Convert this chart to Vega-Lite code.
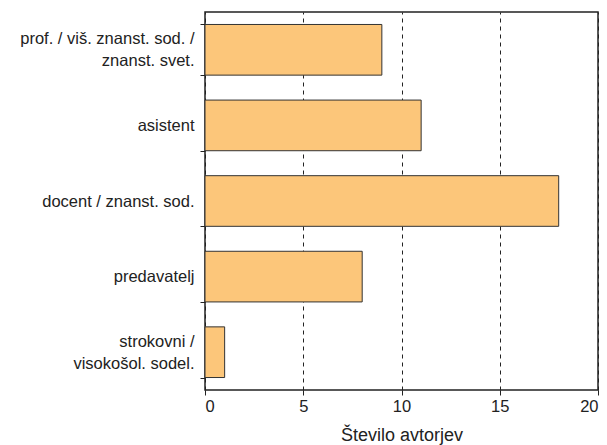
{
  "$schema": "https://vega.github.io/schema/vega-lite/v6.json",
  "width": 393,
  "height": 378,
  "autosize": "none",
  "padding": {"left": 205, "top": 12, "right": 9, "bottom": 55},
  "background": "white",
  "config": {
    "font": "Liberation Sans",
    "view": {"stroke": "#222222", "strokeWidth": 1.5},
    "axis": {"labelFont": "Liberation Sans", "titleFont": "Liberation Sans", "labelColor": "#222222", "titleColor": "#222222", "domainColor": "#222222", "tickColor": "#222222"}
  },
  "data": {
    "values": [
      {"category": "prof. / viš. znanst. sod. / znanst. svet.", "count": 9},
      {"category": "asistent", "count": 11},
      {"category": "docent / znanst. sod.", "count": 18},
      {"category": "predavatelj", "count": 8},
      {"category": "strokovni / visokošol. sodel.", "count": 1}
    ]
  },
  "mark": {"type": "bar", "fill": "#FCC67A", "stroke": "#333333", "strokeWidth": 1},
  "encoding": {
    "y": {
      "field": "category",
      "type": "nominal",
      "sort": null,
      "scale": {"paddingInner": 0.33, "paddingOuter": 0.165},
      "axis": {
        "title": null,
        "labelFontSize": 16.5,
        "labelLineHeight": 22,
        "labelPadding": 6,
        "labelOffset": {"condition": {"test": "datum.value == 'prof. / viš. znanst. sod. / znanst. svet.' || datum.value == 'strokovni / visokošol. sodel.'", "value": -11}, "value": 0},
        "tickSize": 5,
        "tickBand": "extent",
        "domain": false,
        "labelExpr": "datum.value == 'prof. / viš. znanst. sod. / znanst. svet.' ? ['prof. / viš. znanst. sod. /', 'znanst. svet.'] : datum.value == 'strokovni / visokošol. sodel.' ? ['strokovni /', 'visokošol. sodel.'] : datum.value"
      }
    },
    "x": {
      "field": "count",
      "type": "quantitative",
      "scale": {"domain": [0, 20], "nice": false},
      "axis": {
        "title": "Število avtorjev",
        "titleFontSize": 18,
        "titleFontWeight": "normal",
        "titlePadding": 12,
        "values": [0, 5, 10, 15, 20],
        "labelFontSize": 16.5,
        "labelPadding": 3,
        "tickSize": 5,
        "domain": false,
        "grid": true,
        "gridColor": "#222222",
        "gridDash": [4, 4],
        "gridWidth": 1
      }
    }
  }
}
